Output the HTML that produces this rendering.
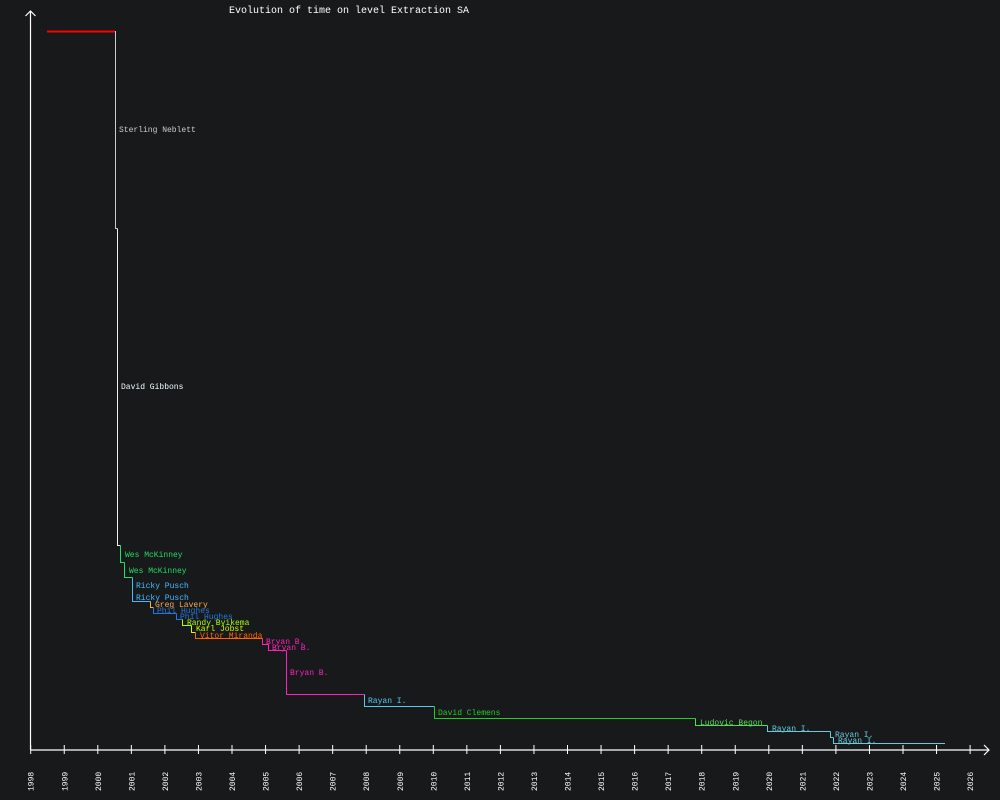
<!DOCTYPE html>
<html><head><style>
html,body{margin:0;padding:0;background:#18191b;}
svg{display:block;font-family:"Liberation Mono","DejaVu Sans Mono",monospace;}
</style></head><body>
<svg width="1000" height="800" xmlns="http://www.w3.org/2000/svg">
<rect width="1000" height="800" fill="#18191b"/>
<text x="229" y="13" fill="#ffffff" font-size="10">Evolution of time on level Extraction SA</text>
<g stroke="#ffffff" stroke-width="1.2" fill="none">
<line x1="30.5" y1="11" x2="30.5" y2="750"/>
<polyline points="25.5,16 30.5,11 35.5,16"/>
<line x1="30.5" y1="750" x2="989" y2="750"/>
<polyline points="984,745 989,750 984,755"/>
</g>
<g id="ticks" stroke="#ffffff" stroke-width="1"></g>
<g id="tl" fill="#ffffff" font-size="8"></g>
<g fill="none" stroke-width="1" shape-rendering="crispEdges">
<line x1="47" y1="31.5" x2="115" y2="31.5" stroke="#ff0000" stroke-width="2"/>
<polyline stroke="#cccccc" points="115.5,31 115.5,228.5 117.5,228.5"/>
<polyline stroke="#eeeeee" points="117.5,228.5 117.5,545.5 120.5,545.5"/>
<polyline stroke="#22dd66" points="120.5,545.5 120.5,562.5 124.5,562.5"/>
<polyline stroke="#22dd66" points="124.5,562.5 124.5,577.5 132.5,577.5"/>
<polyline stroke="#44bbff" points="132.5,577.5 132.5,601.5 150.5,601.5"/>
<polyline stroke="#ffaa55" points="150.5,601.5 150.5,607.5 153.5,607.5"/>
<polyline stroke="#2277dd" points="153.5,607.5 153.5,613.5 176.5,613.5"/>
<polyline stroke="#2277dd" points="176.5,613.5 176.5,619.5 182.5,619.5"/>
<polyline stroke="#aaff00" points="182.5,619.5 182.5,625.5 191.5,625.5"/>
<polyline stroke="#ccff00" points="191.5,625.5 191.5,632.5 195.5,632.5"/>
<polyline stroke="#ff6600" points="195.5,632.5 195.5,638.5 262.5,638.5"/>
<polyline stroke="#ff22bb" points="262.5,638.5 262.5,644.5 268.5,644.5"/>
<polyline stroke="#ff22bb" points="268.5,644.5 268.5,650.5 286.5,650.5"/>
<polyline stroke="#ff22bb" points="286.5,650.5 286.5,694.5 364.5,694.5"/>
<polyline stroke="#55ccee" points="364.5,694.5 364.5,706.5 434.5,706.5"/>
<polyline stroke="#22cc22" points="434.5,706.5 434.5,718.5 695.5,718.5"/>
<polyline stroke="#55dd55" points="695.5,718.5 695.5,725.5 767.5,725.5"/>
<polyline stroke="#66ccdd" points="767.5,725.5 767.5,731.5 830.5,731.5"/>
<polyline stroke="#66ccdd" points="830.5,731.5 830.5,737.5 833.5,737.5"/>
<polyline stroke="#66ccdd" points="833.5,737.5 833.5,743.5 945,743.5"/>
</g>
<g font-size="8">
<text x="119" y="132" fill="#cccccc">Sterling Neblett</text>
<text x="121" y="389" fill="#eeffff">David Gibbons</text>
<text x="125" y="557" fill="#22dd66">Wes McKinney</text>
<text x="129" y="573" fill="#22dd66">Wes McKinney</text>
<text x="136" y="588" fill="#44bbff">Ricky Pusch</text>
<text x="136" y="600" fill="#44bbff">Ricky Pusch</text>
<text x="155" y="607" fill="#ffaa55">Greg Lavery</text>
<text x="157" y="613" fill="#2277dd">Phil Hughes</text>
<text x="180" y="619" fill="#2277dd">Phil Hughes</text>
<text x="187" y="625" fill="#aaff00">Randy Byikema</text>
<text x="196" y="631" fill="#ccff00">Karl Jobst</text>
<text x="200" y="638" fill="#ff6600">Vitor Miranda</text>
<text x="266" y="644" fill="#ff22bb">Bryan B.</text>
<text x="272" y="650" fill="#ff22bb">Bryan B.</text>
<text x="290" y="675" fill="#ff22bb">Bryan B.</text>
<text x="368" y="703" fill="#55ccee">Rayan I.</text>
<text x="438" y="715" fill="#22cc22">David Clemens</text>
<text x="700" y="725" fill="#55dd55">Ludovic Begon</text>
<text x="772" y="731" fill="#66ccdd">Rayan I.</text>
<text x="835" y="737" fill="#66ccdd">Rayan I.</text>
<text x="838" y="743" fill="#66ccdd">Rayan I.</text>
</g>
<script>
var t=document.getElementById('ticks'),l=document.getElementById('tl'),ns='http://www.w3.org/2000/svg';
for(var i=0;i<=28;i++){var x=30.7+i*33.55;
var ln=document.createElementNS(ns,'line');ln.setAttribute('x1',x);ln.setAttribute('x2',x);ln.setAttribute('y1',745);ln.setAttribute('y2',754);t.appendChild(ln);
var tx=document.createElementNS(ns,'text');tx.setAttribute('transform','translate('+(x+3)+',791) rotate(-90)');tx.textContent=(1998+i);l.appendChild(tx);}
</script>
</svg>
</body></html>
